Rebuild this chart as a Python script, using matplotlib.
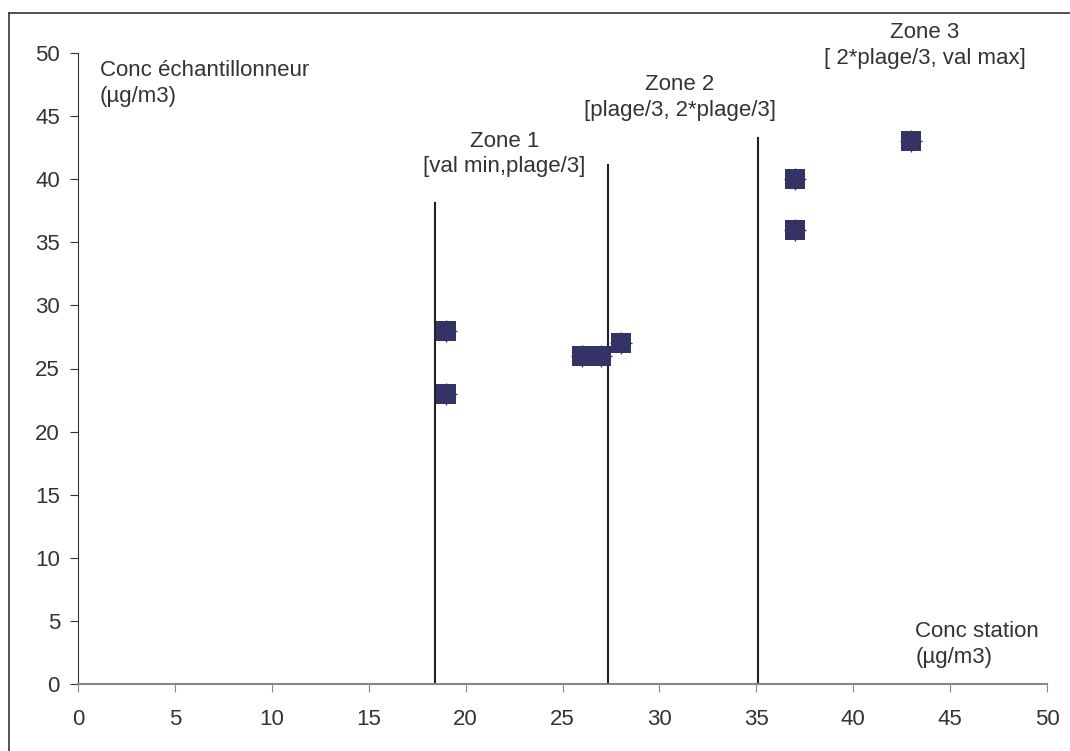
import matplotlib.pyplot as plt
from matplotlib.lines import Line2D

plt.rcParams['font.family'] = ['Liberation Sans', 'DejaVu Sans']

# concentrations station / echantillonneur
conc_station = [19, 19, 26, 27, 28, 37, 37, 43]
conc_echant = [28, 23, 26, 26, 27, 40, 36, 43]

# limites des zones (x, hauteur du trait)
zone_x = [18.4, 27.35, 35.1]
zone_top = [38.1, 41.1, 43.3]
zone_titles = ['Zone 1', 'Zone 2', 'Zone 3']
zone_ranges = ['[val min,plage/3]', '[plage/3, 2*plage/3]', '[ 2*plage/3, val max]']
zone_text_x = [22.0, 31.05, 43.7]
zone_text_y = [42.0, 46.5, 50.6]

ticks = list(range(0, 51, 5))

fig = plt.figure(figsize=(10.7, 7.51), dpi=100)
ax = fig.add_axes([78/1070, 1 - 684/751, (1047-78)/1070, (684-53)/751])

# cadre exterieur
fig.add_artist(Line2D([9/1070, 9/1070], [0, 1 - 13/751], transform=fig.transFigure,
                      color='#333333', lw=1.2))
fig.add_artist(Line2D([9/1070, 1], [1 - 13/751, 1 - 13/751], transform=fig.transFigure,
                      color='#333333', lw=1.2))

for x, top in zip(zone_x, zone_top):
    ax.plot([x, x], [0, top], color='#222222', lw=1.5, zorder=2)

ax.plot(conc_station, conc_echant, linestyle='none', marker='s', markersize=15,
        markerfacecolor='#333366', markeredgecolor='#333366', markeredgewidth=0, zorder=3)
ax.plot(conc_station, conc_echant, linestyle='none', marker='+', markersize=16.5,
        markeredgecolor='#333366', markeredgewidth=1.0, zorder=3)

for tx, ty, t, r in zip(zone_text_x, zone_text_y, zone_titles, zone_ranges):
    ax.text(tx, ty, t + '\n' + r, ha='center', va='center', fontsize=16,
            color='#333333', linespacing=1.3, clip_on=False)

ax.text(1.14, 47.6, 'Conc échantillonneur\n(µg/m3)', ha='left', va='center', fontsize=16,
        color='#333333', linespacing=1.3)
ax.text(43.2, 3.1, 'Conc station\n(µg/m3)', ha='left', va='center', fontsize=16,
        color='#333333', linespacing=1.3)

ax.set_xlim(0, 50)
ax.set_ylim(0, 50)
ax.set_xticks(ticks)
ax.set_yticks(ticks)
ax.spines['top'].set_visible(False)
ax.spines['right'].set_visible(False)
ax.spines['left'].set_color('#333333')
ax.spines['bottom'].set_color('#888888')
ax.spines['bottom'].set_linewidth(1.5)
ax.tick_params(axis='y', direction='out', length=6, color='#333333', labelsize=16,
               labelcolor='#333333', pad=7)
ax.tick_params(axis='x', direction='out', length=6, color='#888888', labelsize=16,
               labelcolor='#333333', pad=12)

fig.savefig('out.png', dpi=100)
